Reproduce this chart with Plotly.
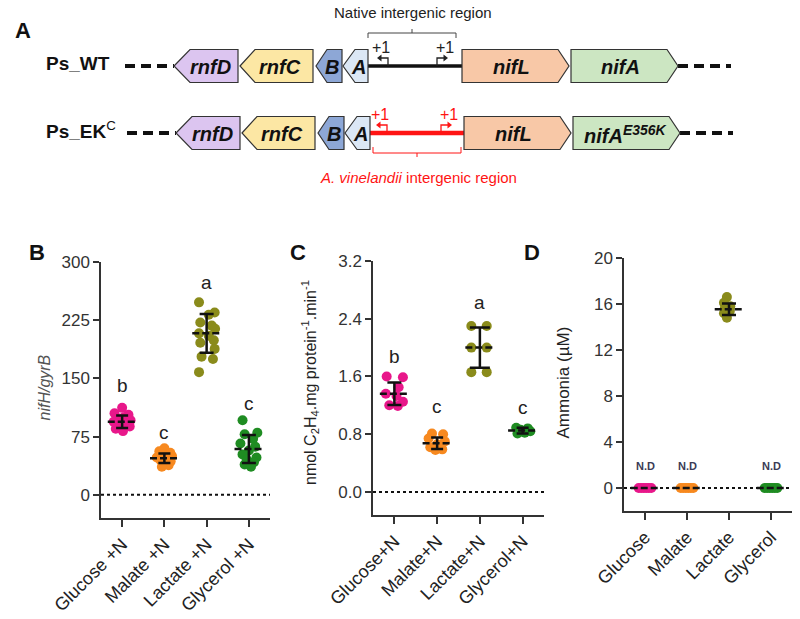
import plotly.graph_objects as go

FONT = "Liberation Sans, Arial, sans-serif"
W, H = 800, 619

# ---------------- Panel A : gene map (schematic units) ----------------
genes = ["rnfD", "rnfC", "B", "A", "nifL", "nifA"]
gene_labels_ek = ["rnfD", "rnfC", "B", "A", "nifL", "nifA<sup>E356K</sup>"]
gene_start = [174, 240, 316, 343, 462, 571]
gene_end = [238, 313, 342, 368, 569, 678]
gene_head = [16, 15, 11, 12, 11, 11]
gene_strand = [-1, -1, -1, -1, 1, 1]
strains = ["<b>Ps_WT</b>", "<b>Ps_EK</b><sup>C</sup>"]
tss = [[388, 437], [387, 441]]        # the two +1 sites per strain
tss_dir = [-1, 1]

# ---------------- Panels B-D : data ----------------
cats_b = ["Glucose +N", "Malate +N", "Lactate +N", "Glycerol +N"]
cats_c = ["Glucose+N", "Malate+N", "Lactate+N", "Glycerol+N"]
cats_d = ["Glucose", "Malate", "Lactate", "Glycerol"]

# B: nifH/gyrB
b_glucose = [112, 105, 103, 100, 98, 96, 94, 92, 90, 88, 85, 82]
b_malate = [60, 56, 54, 52, 50, 48, 47, 45, 43, 41, 38, 36]
b_lactate = [248, 235, 232, 222, 218, 214, 208, 205, 199, 196, 188, 178, 175, 158]
b_glycerol = [96, 80, 78, 72, 66, 62, 57, 52, 48, 45, 42, 39, 36]
b_mean = [94, 47, 208, 59]
b_sd = [8, 6, 25, 18]
b_letters = ["b", "c", "a", "c"]
b_letter_y = [141, 80, 273, 117]

# C: nitrogenase activity
c_glucose = [1.60, 1.59, 1.45, 1.36, 1.33, 1.25, 1.20, 1.19]
c_malate = [0.81, 0.80, 0.74, 0.70, 0.66, 0.62, 0.59, 0.58]
c_lactate = [2.30, 2.30, 2.00, 2.00, 1.66, 1.66]
c_glycerol = [0.89, 0.88, 0.86, 0.84, 0.82, 0.81]
c_mean = [1.36, 0.675, 2.0, 0.85]
c_sd = [0.155, 0.08, 0.28, 0.04]
c_letters = ["b", "c", "a", "c"]
c_letter_y = [1.87, 1.19, 2.62, 1.17]

# D: ammonia (uM)
d_glucose = [0, 0, 0, 0, 0, 0]
d_malate = [0, 0, 0, 0, 0, 0]
d_lactate = [16.6, 16.1, 15.8, 15.6, 15.4, 15.2, 14.8]
d_glycerol = [0, 0, 0, 0, 0, 0]
d_mean = [0, 0, 15.55, 0]
d_sd = [0, 0, 0.5, 0]
d_nd = ["N.D", "N.D", "", "N.D"]

# horizontal scatter offsets
off_b = [
    [0.0, -0.18, 0.15, 0.05, -0.12, 0.2, -0.2, 0.1, -0.05, 0.18, -0.15, 0.02],
    [0.0, -0.12, 0.14, -0.05, 0.18, -0.18, 0.06, -0.1, 0.15, -0.02, 0.1, -0.06],
    [-0.18, 0.19, 0.05, -0.15, 0.12, 0.2, -0.18, 0.05, 0.17, -0.15, 0.19, -0.12, 0.15, -0.18],
    [-0.15, 0.2, -0.1, 0.1, -0.2, 0.15, 0.0, -0.15, 0.18, -0.05, 0.12, -0.1, 0.05],
]
off_c = [
    [-0.18, 0.2, 0.1, -0.2, 0.05, 0.2, -0.12, 0.08],
    [-0.12, 0.14, -0.2, 0.18, 0.0, -0.16, 0.12, -0.04],
    [-0.2, 0.16, -0.2, 0.16, -0.2, 0.16],
    [-0.15, 0.12, -0.05, 0.18, 0.05, -0.12],
]
off_d = [
    [-0.15, -0.09, -0.03, 0.03, 0.09, 0.15],
    [-0.15, -0.09, -0.03, 0.03, 0.09, 0.15],
    [-0.05, -0.12, 0.03, -0.1, 0.02, -0.12, -0.05],
    [-0.15, -0.09, -0.03, 0.03, 0.09, 0.15],
]

colors = ["#e8178a", "#f7891f", "#8a8b1b", "#1f8c22"]
gene_fill = ["#dcc5f0", "#fce7a4", "#8da7d6", "#dbe7f5", "#f8c8a7", "#cce6c2"]


def px(x):
    return x / W


def py(y):
    return 1 - y / H


fig = go.Figure()
annotations = []
shapes = []

# ---------------- build panels B-D ----------------
panels = [
    dict(ax="", groups=[b_glucose, b_malate, b_lactate, b_glycerol], offs=off_b,
         mean=b_mean, sd=b_sd, cap=[6, 6, 7, 7], cats=cats_b,
         xdom=[px(101), px(270)], ydom=[py(518), py(262)],
         yrange=[-30, 300], ytick=[0, 75, 150, 225, 300], yfmt=None),
    dict(ax="2", groups=[c_glucose, c_malate, c_lactate, c_glycerol], offs=off_c,
         mean=c_mean, sd=c_sd, cap=[7, 6, 10, 6], cats=cats_c,
         xdom=[px(373), px(544)], ydom=[py(515), py(261)],
         yrange=[-0.32, 3.2], ytick=[0, 0.8, 1.6, 2.4, 3.2], yfmt=".1f"),
    dict(ax="3", groups=[d_glucose, d_malate, d_lactate, d_glycerol], offs=off_d,
         mean=d_mean, sd=d_sd, cap=[0, 0, 7, 0], cats=cats_d,
         xdom=[px(624), px(792)], ydom=[py(511), py(258)],
         yrange=[-2, 20], ytick=[0, 4, 8, 12, 16, 20], yfmt=None),
]

for p in panels:
    xa, ya = "x" + p["ax"], "y" + p["ax"]
    # dotted zero line
    fig.add_trace(go.Scatter(x=[-0.5, 3.5], y=[0, 0], mode="lines",
                             line=dict(color="#111", width=2, dash="dot"),
                             xaxis=xa, yaxis=ya, showlegend=False, hoverinfo="skip"))
    for i, vals in enumerate(p["groups"]):
        fig.add_trace(go.Scatter(
            x=[i + o for o in p["offs"][i]], y=vals, mode="markers",
            marker=dict(color=colors[i], size=10, line=dict(width=0)),
            xaxis=xa, yaxis=ya, showlegend=False))
    for i in range(4):
        m = p["mean"][i]
        fig.add_trace(go.Scatter(x=[i - 0.34, i + 0.34], y=[m, m], mode="lines",
                                 line=dict(color="#111", width=2.5, dash="7px,3px"),
                                 xaxis=xa, yaxis=ya, showlegend=False, hoverinfo="skip"))
        if p["sd"][i] > 0:
            fig.add_trace(go.Scatter(
                x=[i], y=[m], mode="markers",
                marker=dict(size=1, color="rgba(0,0,0,0)"),
                error_y=dict(type="data", array=[p["sd"][i]], color="#111",
                             thickness=2.5, width=p["cap"][i]),
                xaxis=xa, yaxis=ya, showlegend=False, hoverinfo="skip"))
    xkey = "xaxis" + p["ax"]
    ykey = "yaxis" + p["ax"]
    ytext = [format(v, p["yfmt"]) if p["yfmt"] else str(v) for v in p["ytick"]]
    fig.update_layout(**{
        xkey: dict(domain=p["xdom"], anchor=ya, range=[-0.5, 3.5], automargin=False,
                   tickvals=[0, 1, 2, 3], ticktext=p["cats"], tickangle=-45,
                   showline=True, linecolor="#333", linewidth=1.5,
                   ticks="outside", ticklen=7, tickwidth=1.5, tickcolor="#333",
                   showgrid=False, zeroline=False,
                   tickfont=dict(family=FONT, size=18, color="#222")),
        ykey: dict(domain=p["ydom"], anchor=xa, range=p["yrange"], automargin=False,
                   tickvals=p["ytick"], ticktext=ytext,
                   showline=True, linecolor="#333", linewidth=1.5,
                   ticks="outside", ticklen=6, tickwidth=1.5, tickcolor="#333",
                   showgrid=False, zeroline=False,
                   tickfont=dict(family=FONT, size=17, color="#333")),
    })

# significance letters
for i in range(4):
    annotations.append(dict(x=i, y=b_letter_y[i], xref="x", yref="y", text=b_letters[i],
                            showarrow=False, font=dict(family=FONT, size=19, color="#222")))
    annotations.append(dict(x=i, y=c_letter_y[i], xref="x2", yref="y2", text=c_letters[i],
                            showarrow=False, font=dict(family=FONT, size=19, color="#222")))
    if d_nd[i]:
        annotations.append(dict(x=i, y=1.9, xref="x3", yref="y3", text="<b>" + d_nd[i] + "</b>",
                                showarrow=False, font=dict(family=FONT, size=11, color="#3b3b55")))

# axis titles
annotations += [
    dict(x=px(33), y=py(388), xref="paper", yref="paper", text="<i>nifH/gyrB</i>",
         textangle=-90, showarrow=False, font=dict(family=FONT, size=16, color="#555")),
    dict(x=px(310), y=py(383), xref="paper", yref="paper",
         text="nmol C<sub>2</sub>H<sub>4</sub>.mg protein<sup>-1</sup>.min<sup>-1</sup>",
         textangle=-90, showarrow=False, font=dict(family=FONT, size=16, color="#222")),
    dict(x=px(574), y=py(383), xref="paper", yref="paper", text="Ammonia (µM)",
         textangle=-90, showarrow=False, font=dict(family=FONT, size=17, color="#222")),
]

# panel letters
for t, (lx, ly) in zip(["A", "B", "C", "D"], [(13, 16), (27, 253), (298, 253), (542, 253)]):
    annotations.append(dict(x=px(lx), y=py(ly), xref="paper", yref="paper", text="<b>" + t + "</b>",
                            showarrow=False, font=dict(family=FONT, size=22, color="#111")))

# ---------------- Panel A drawing ----------------
row_y = [66, 133]
row_dx = [0, 2]
hh = 16.5
for r in range(2):
    yc = row_y[r]
    dx = row_dx[r]
    # flanking dashes
    fig.add_trace(go.Scatter(x=[125 + dx, gene_start[0] + dx], y=[yc, yc], mode="lines",
                             line=dict(color="#111", width=4, dash="10px,6px"),
                             xaxis="x4", yaxis="y4", showlegend=False, hoverinfo="skip"))
    fig.add_trace(go.Scatter(x=[gene_end[-1] + dx, 731 + dx], y=[yc, yc], mode="lines",
                             line=dict(color="#111", width=4, dash="10px,6px"),
                             xaxis="x4", yaxis="y4", showlegend=False, hoverinfo="skip"))
    # intergenic region
    icol = "#111" if r == 0 else "#ff1414"
    fig.add_trace(go.Scatter(x=[gene_end[3] + dx, gene_start[4] + dx], y=[yc, yc], mode="lines",
                             line=dict(color=icol, width=3.5 if r == 0 else 4.5),
                             xaxis="x4", yaxis="y4", showlegend=False, hoverinfo="skip"))
    # genes
    for g in range(len(genes)):
        a = gene_start[g] + dx
        b = gene_end[g] + dx
        h = gene_head[g]
        if gene_strand[g] < 0:
            path = f"M {a},{yc} L {a+h},{yc-hh} L {b},{yc-hh} L {b},{yc+hh} L {a+h},{yc+hh} Z"
            cx = (a + b) / 2 + h / 4
        else:
            path = f"M {a},{yc-hh} L {b-h},{yc-hh} L {b},{yc} L {b-h},{yc+hh} L {a},{yc+hh} Z"
            cx = (a + b) / 2 - h / 3
        shapes.append(dict(type="path", path=path, xref="x4", yref="y4",
                           fillcolor=gene_fill[g], line=dict(color="#333", width=1.2), layer="above"))
        lab = genes[g] if r == 0 else gene_labels_ek[g]
        if r == 1 and g == 5:
            cx += 3
        annotations.append(dict(x=cx, y=yc + 1, xref="x4", yref="y4", text="<b><i>" + lab + "</i></b>",
                                showarrow=False, font=dict(family=FONT, size=20, color="#111")))
    # strain name
    annotations.append(dict(x=44, y=yc - 3, xref="x4", yref="y4", text=strains[r], xanchor="left",
                            showarrow=False, font=dict(family=FONT, size=19, color="#111")))
    # transcription start sites: bent arrows
    tcol = "#222" if r == 0 else "#ff1414"
    for k in range(2):
        xs = tss[r][k]
        d = tss_dir[k]
        fig.add_trace(go.Scatter(x=[xs, xs, xs + d * 7], y=[yc, yc - 8, yc - 8], mode="lines",
                                 line=dict(color=tcol, width=1.3),
                                 xaxis="x4", yaxis="y4", showlegend=False, hoverinfo="skip"))
        fig.add_trace(go.Scatter(x=[xs + d * 8], y=[yc - 8], mode="markers",
                                 marker=dict(symbol="triangle-left" if d < 0 else "triangle-right",
                                             size=6, color=tcol),
                                 xaxis="x4", yaxis="y4", showlegend=False, hoverinfo="skip"))
        annotations.append(dict(x=xs + (-7 if d < 0 else 8), y=yc - 19, xref="x4", yref="y4", text="+1",
                                showarrow=False, font=dict(family=FONT, size=16, color=tcol)))

# brackets
shapes.append(dict(type="path", path="M 368,38 L 368,33 L 456,33 L 456,38", xref="x4", yref="y4",
                   line=dict(color="#444", width=1)))
shapes.append(dict(type="line", x0=412, x1=412, y0=33, y1=29, xref="x4", yref="y4",
                   line=dict(color="#444", width=1)))
shapes.append(dict(type="path", path="M 373,147 L 373,153 L 461,153 L 461,147", xref="x4", yref="y4",
                   line=dict(color="#ff1414", width=1)))
shapes.append(dict(type="line", x0=417, x1=417, y0=153, y1=157, xref="x4", yref="y4",
                   line=dict(color="#ff1414", width=1)))
annotations.append(dict(x=413, y=12, xref="x4", yref="y4", text="Native intergenic region",
                        showarrow=False, font=dict(family=FONT, size=15, color="#222")))
annotations.append(dict(x=418, y=177, xref="x4", yref="y4",
                        text="<i>A. vinelandii</i> intergenic region",
                        showarrow=False, font=dict(family=FONT, size=15, color="#ff1414")))

fig.update_layout(
    width=W, height=H, margin=dict(l=0, r=0, t=0, b=0),
    paper_bgcolor="white", plot_bgcolor="white", showlegend=False,
    xaxis4=dict(domain=[0, 1], anchor="y4", range=[0, W], visible=False, fixedrange=True,
                automargin=False),
    yaxis4=dict(domain=[py(200), 1], anchor="x4", range=[200, 0], visible=False, fixedrange=True,
                automargin=False),
    annotations=annotations, shapes=shapes,
    font=dict(family=FONT),
)

fig.write_html("out.html", config={"displayModeBar": False},
               post_script="document.body.style.margin='0px';document.body.style.overflow='hidden';")
